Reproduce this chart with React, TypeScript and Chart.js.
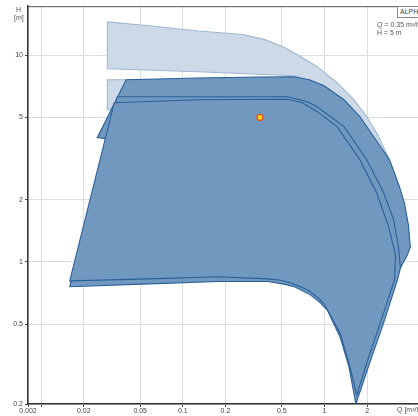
import React, { useEffect, useRef } from 'react';
import { Chart, registerables } from 'chart.js';

Chart.register(...registerables);

// Axis ranges (log-log)
const xMin = 0.00807;
const xMax = 6.0;
const yMin = 0.205;
const yMax = 17.27;

// Tick values and labels
const xTickValues = [xMin, 0.01, 0.02, 0.05, 0.1, 0.2, 0.5, 1, 2, 5];
const xTickLabels = ['0.002', '', '0.02', '0.05', '0.1', '0.2', '0.5', '1', '2', '5'];
const yTickValues = [yMin, 0.5, 1, 2, 5, 10];
const yTickLabels = ['0.2', '0.5', '1', '2', '5', '10'];

// Light (max speed range) upper band, Q [m3/h] / H [m]
const lightUpperQ = [0.0293, 0.0576, 0.129, 0.266, 0.379, 0.523, 0.644, 0.889, 1.227, 1.613, 1.989, 2.374, 2.835, 2.336, 1.33, 0.82, 0.614, 0.129, 0.0293, 0.0293];
const lightUpperH = [14.5, 13.9, 13.1, 12.6, 11.9, 10.9, 10.06, 8.8, 7.36, 6.09, 5.04, 4.12, 3.19, 3.12, 5.45, 7.12, 7.96, 8.32, 8.6, 14.5];

// Light lower band
const lightLowerQ = [0.0293, 0.288, 0.288, 0.0293, 0.0293];
const lightLowerH = [7.61, 7.61, 5.45, 5.45, 7.61];

// Dark areas (pump ranges)
const rangeAQ = [0.0398, 0.129, 0.338, 0.614, 0.782, 0.995, 1.373, 1.777, 2.226, 2.881, 3.383, 3.667, 3.911, 4.039, 3.848, 3.438, 2.336, 0.288, 0.0288, 0.0249, 0.0398];
const rangeAH = [7.61, 7.76, 7.84, 7.87, 7.61, 7.12, 6.09, 5.04, 4.03, 3.12, 2.31, 1.93, 1.51, 1.18, 1.08, 0.935, 1.14, 2.0, 3.94, 3.99, 7.61];

const rangeBQ = [0.0344, 0.129, 0.548, 0.757, 0.889, 1.373, 1.989, 2.616, 3.073, 3.329, 3.438, 3.276, 2.616, 2.087, 1.666, 1.488, 1.288, 1.044, 0.918, 0.794, 0.614, 0.506, 0.398, 0.178, 0.0576, 0.0159, 0.0344];
const rangeBH = [6.3, 6.3, 6.3, 5.95, 5.63, 4.51, 3.12, 2.16, 1.6, 1.18, 0.935, 0.818, 0.506, 0.324, 0.205, 0.31, 0.433, 0.586, 0.64, 0.692, 0.757, 0.782, 0.803, 0.803, 0.782, 0.757, 6.3];

const rangeCQ = [0.0328, 0.129, 0.548, 0.698, 0.889, 1.227, 1.777, 2.336, 2.835, 3.172, 3.123, 2.492, 2.021, 1.693, 1.488, 1.288, 0.995, 0.875, 0.757, 0.576, 0.49, 0.398, 0.178, 0.0576, 0.0159, 0.0328];
const rangeCH = [5.89, 6.09, 6.12, 5.89, 5.33, 4.51, 3.12, 2.16, 1.48, 1.08, 0.818, 0.512, 0.335, 0.227, 0.324, 0.453, 0.626, 0.681, 0.732, 0.791, 0.814, 0.827, 0.846, 0.827, 0.809, 5.89];

// Duty point
const dutyQ = [0.35];
const dutyH = [5];

const zip = (q: number[], h: number[]) => q.map((v, i) => ({ x: v, y: h[i] }));

const FONT = 'Liberation Sans, Arial, sans-serif';
const LIGHT_FILL = 'rgb(205,217,230)';
const LIGHT_LINE = 'rgb(158,184,210)';
const DARK_FILL = 'rgb(113,152,190)';
const DARK_LINE = 'rgb(42,96,152)';

const frameTop = {
  id: 'frameTop',
  afterDatasetsDraw(chart: any) {
    const { ctx, chartArea } = chart;
    ctx.save();
    ctx.strokeStyle = '#555';
    ctx.lineWidth = 1;
    ctx.beginPath();
    ctx.moveTo(chartArea.left, chartArea.top + 0.5);
    ctx.lineTo(chartArea.right, chartArea.top + 0.5);
    ctx.stroke();
    ctx.restore();
  },
};

function poly(data: any[], fill: string, line: string, order: number) {
  return {
    data,
    showLine: true,
    fill: 'shape',
    backgroundColor: fill,
    borderColor: line,
    borderWidth: 1.1,
    pointRadius: 0,
    pointHoverRadius: 0,
    tension: 0,
    order,
  };
}

export default function App() {
  const ref = useRef<HTMLCanvasElement>(null);

  useEffect(() => {
    if (!ref.current) return;
    const chart = new Chart(ref.current, {
      type: 'scatter',
      data: {
        datasets: [
          poly(zip(lightUpperQ, lightUpperH), LIGHT_FILL, LIGHT_LINE, 6),
          poly(zip(lightLowerQ, lightLowerH), LIGHT_FILL, LIGHT_LINE, 5),
          poly(zip(rangeAQ, rangeAH), DARK_FILL, DARK_LINE, 4),
          poly(zip(rangeBQ, rangeBH), DARK_FILL, DARK_LINE, 3),
          poly(zip(rangeCQ, rangeCH), DARK_FILL, DARK_LINE, 2),
          {
            data: zip(dutyQ, dutyH),
            pointRadius: 3,
            pointBackgroundColor: '#ffd21f',
            pointBorderColor: '#e0541c',
            pointBorderWidth: 1.3,
            order: 1,
          } as any,
        ] as any,
      },
      options: {
        animation: false,
        responsive: false,
        events: [],
        layout: { padding: { left: 0, top: 6, right: 1.4, bottom: 0 } },
        plugins: { legend: { display: false }, tooltip: { enabled: false } },
        scales: {
          x: {
            type: 'logarithmic',
            min: xMin,
            max: xMax,
            afterBuildTicks: (scale: any) => {
              scale.ticks = xTickValues.map((v) => ({ value: v }));
            },
            afterFit: (scale: any) => {
              scale.height = 12;
            },
            ticks: {
              autoSkip: false,
              maxRotation: 0,
              padding: 0,
              color: '#444',
              font: { size: 7, family: FONT },
              callback: (_v: any, i: number) => xTickLabels[i],
            },
            grid: { color: '#dcdcdc', lineWidth: 1, tickLength: 3, tickColor: '#444' },
            border: { color: '#333', width: 1.5 },
          },
          y: {
            type: 'logarithmic',
            min: yMin,
            max: yMax,
            afterBuildTicks: (scale: any) => {
              scale.ticks = yTickValues.map((v) => ({ value: v }));
            },
            afterFit: (scale: any) => {
              scale.width = 28;
            },
            ticks: {
              autoSkip: false,
              padding: 2,
              color: '#444',
              font: { size: 7, family: FONT },
              callback: (_v: any, i: number) => yTickLabels[i],
            },
            grid: { color: '#dcdcdc', lineWidth: 1, tickLength: 3, tickColor: '#444' },
            border: { color: '#333', width: 1.5 },
          },
        },
      } as any,
      plugins: [frameTop],
    });
    return () => chart.destroy();
  }, []);

  const small: React.CSSProperties = {
    position: 'absolute',
    fontFamily: FONT,
    fontSize: 7,
    lineHeight: '8px',
    color: '#555',
    whiteSpace: 'nowrap',
  };

  return (
    <div
      style={{
        position: 'fixed',
        left: 0,
        top: 0,
        width: 418,
        height: 416,
        overflow: 'hidden',
        background: '#fff',
      }}
    >
      <canvas ref={ref} width={440} height={416} style={{ display: 'block' }} />
      <div style={{ ...small, left: 16, top: 6 }}>H</div>
      <div style={{ ...small, left: 14, top: 14 }}>[m]</div>
      <div style={{ ...small, left: 397, top: 406 }}>Q [m³/h]</div>
      <div
        style={{
          ...small,
          left: 397,
          top: 6,
          height: 10,
          width: 40,
          border: '1px solid #888',
          background: '#fff',
          paddingLeft: 2,
          lineHeight: '10px',
          color: '#444',
        }}
      >
        ALPHA2
      </div>
      <div style={{ ...small, left: 377, top: 21 }}>Q = 0.35 m³/h</div>
      <div style={{ ...small, left: 377, top: 29 }}>H = 5 m</div>
    </div>
  );
}
